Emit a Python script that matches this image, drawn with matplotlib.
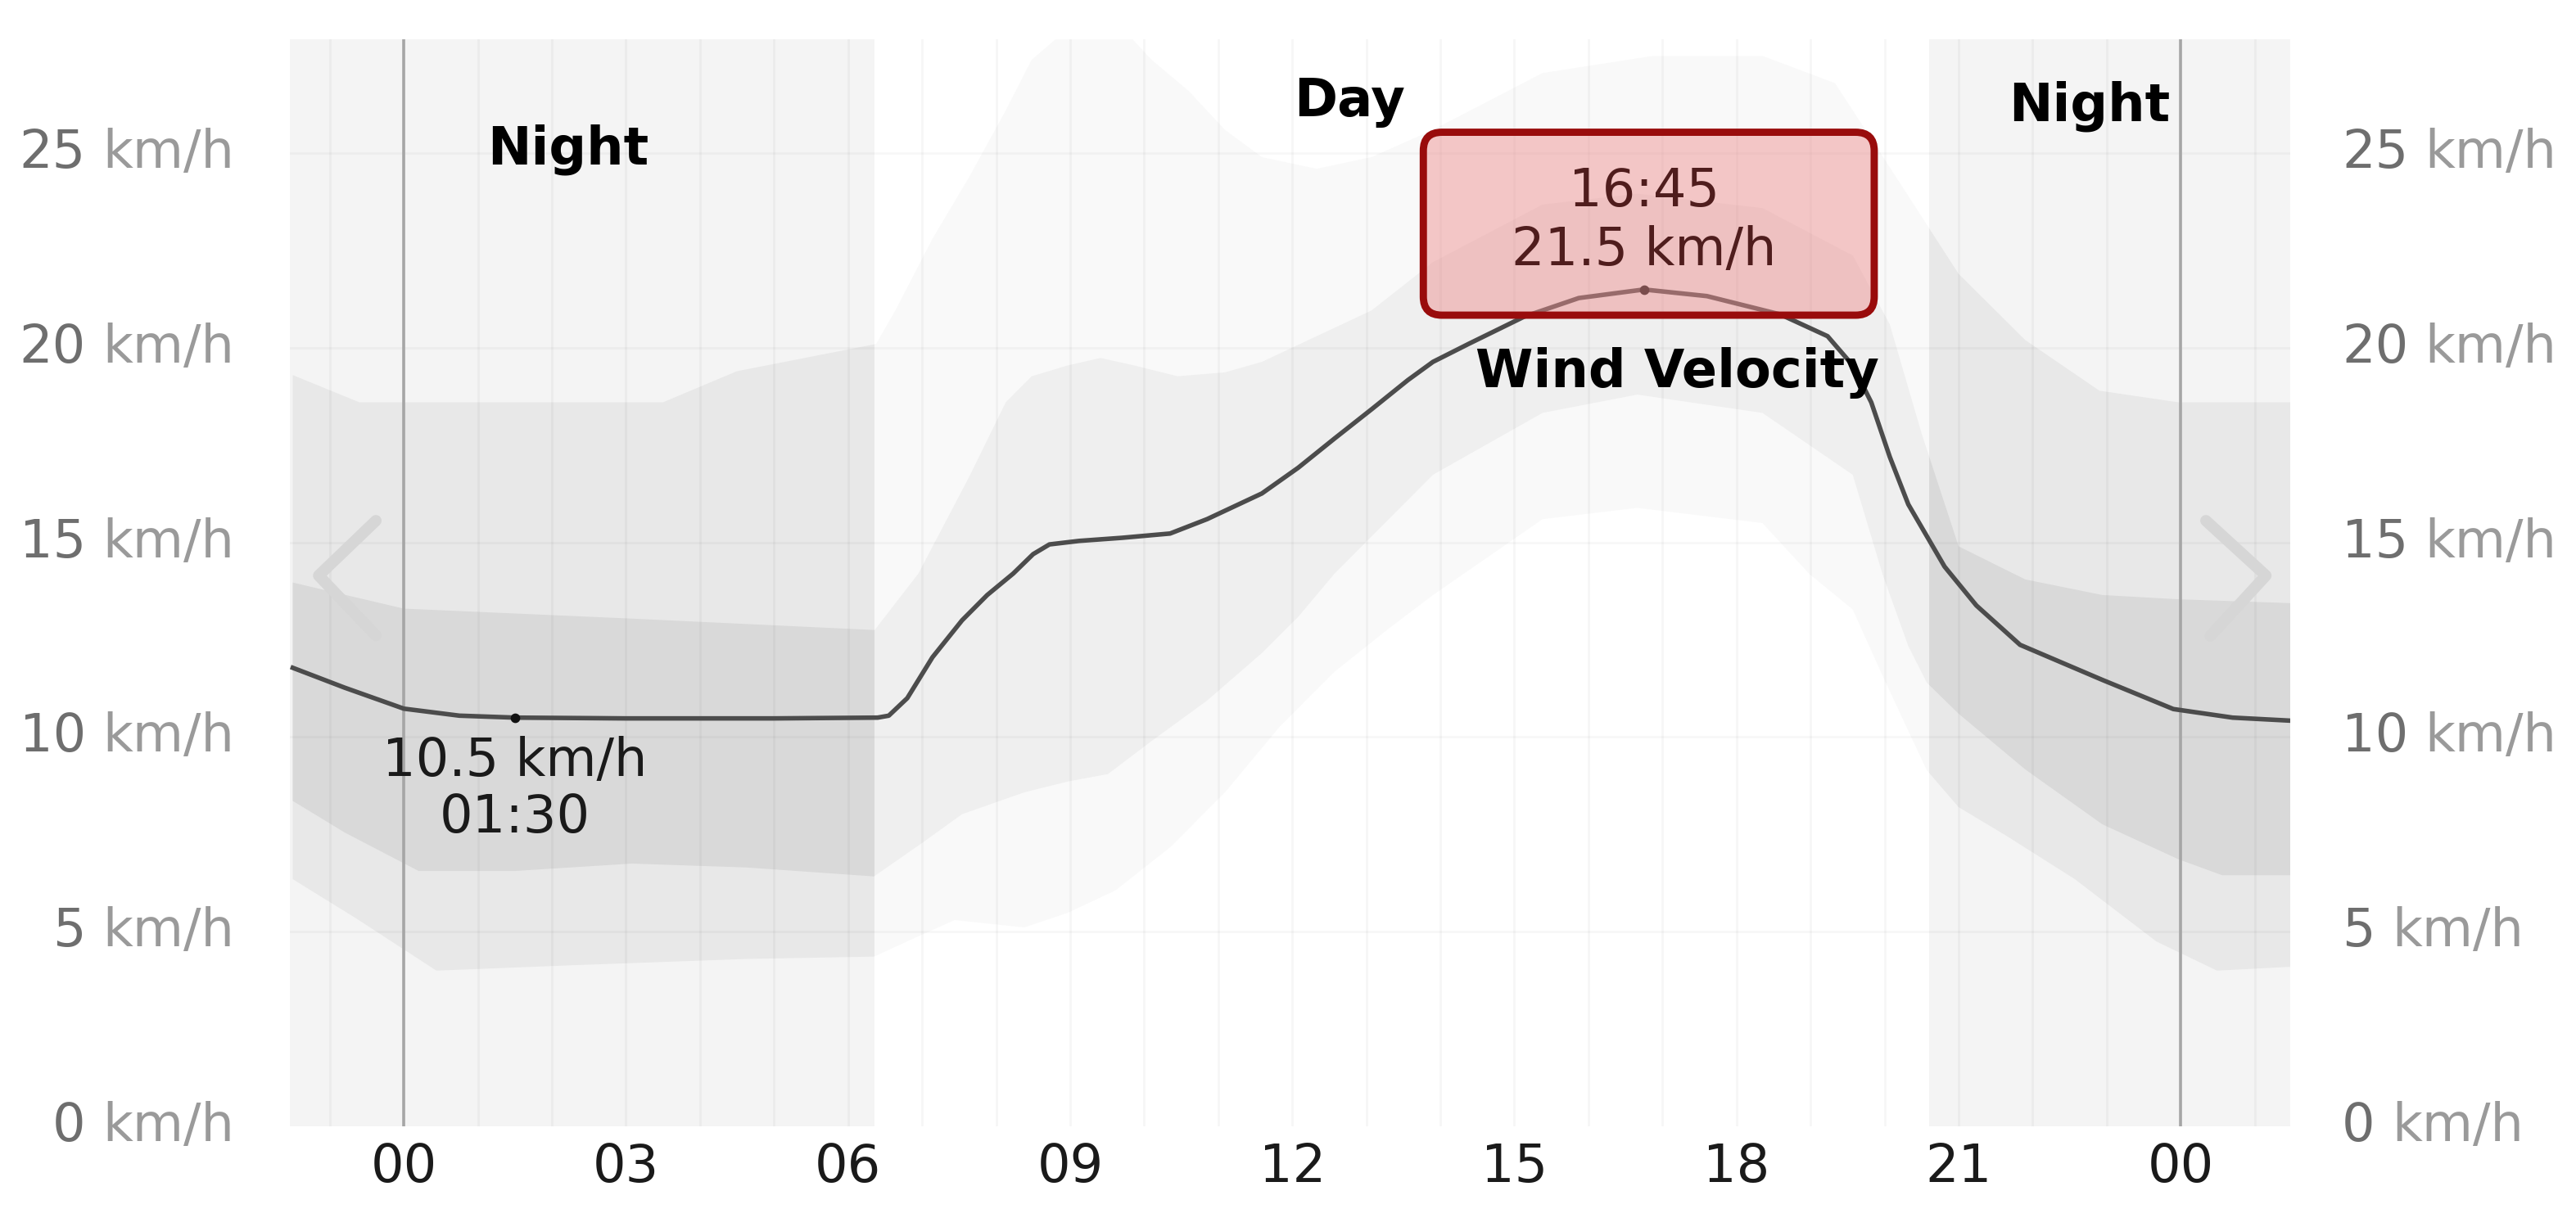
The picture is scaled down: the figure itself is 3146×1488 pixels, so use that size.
import numpy as np
import matplotlib.pyplot as plt
from matplotlib.patches import FancyBboxPatch, Rectangle

plt.rcParams['font.family'] = ['DejaVu Sans']

# --- data (hours after midnight, km/h) ---
hours = [-1.5, -0.8, 0.0, 0.75, 1.5, 3.0, 5.0, 6.4, 6.55, 6.8, 7.14, 7.54, 7.88, 8.23,
         8.5, 8.72, 9.12, 9.7, 10.35, 10.85, 11.59, 12.08, 12.57, 13.07, 13.56, 13.9,
         14.39, 15.13, 15.87, 16.75, 17.6, 18.59, 19.23, 19.57, 19.82, 20.07, 20.32,
         20.81, 21.24, 21.83, 22.94, 23.9, 24.7, 25.5]
speed = [11.78, 11.27, 10.73, 10.55, 10.5, 10.48, 10.48, 10.5, 10.55, 11.0, 12.05, 13.0,
         13.65, 14.2, 14.7, 14.95, 15.04, 15.12, 15.23, 15.6, 16.26, 16.92, 17.67, 18.42,
         19.17, 19.64, 20.11, 20.8, 21.28, 21.5, 21.33, 20.86, 20.3, 19.55, 18.6, 17.2,
         15.98, 14.38, 13.38, 12.37, 11.47, 10.72, 10.5, 10.42]

outer_top_h = [-1.5, -0.6, 3.5, 4.5, 6.38, 6.65, 7.14, 7.64, 8.13, 8.48, 8.97, 9.71, 10.1,
               10.6, 11.09, 11.59, 12.33, 13.07, 13.9, 15.38, 16.87, 18.35, 19.33, 19.98,
               21.0, 21.9, 22.9, 23.97, 25.5]
outer_top = [19.3, 18.6, 18.6, 19.4, 20.1, 21.0, 22.8, 24.4, 26.1, 27.4, 28.2, 28.2, 27.4,
             26.6, 25.6, 24.9, 24.6, 24.9, 25.6, 27.06, 27.5, 27.5, 26.8, 24.9, 21.9, 20.2,
             18.9, 18.6, 18.6]
outer_bot_h = [-1.5, -0.65, 0.44, 2.3, 4.63, 6.35, 6.9, 7.44, 8.38, 8.97, 9.61, 10.35,
               11.09, 11.83, 12.57, 13.31, 13.9, 15.38, 16.66, 18.35, 18.98, 19.57, 19.97,
               20.57, 21.0, 21.64, 22.57, 23.67, 24.49, 25.5]
outer_bot = [6.35, 5.35, 4.0, 4.14, 4.3, 4.36, 4.84, 5.3, 5.11, 5.49, 6.06, 7.17, 8.58,
             10.27, 11.68, 12.8, 13.65, 15.6, 15.89, 15.5, 14.2, 13.28, 11.59, 9.15, 8.2,
             7.47, 6.35, 4.75, 4.0, 4.1]
inner_top_h = [-1.5, 0.0, 3.0, 6.36, 6.95, 7.64, 8.13, 8.48, 8.97, 9.41, 9.86, 10.45,
               11.09, 11.59, 12.33, 13.07, 13.9, 15.38, 16.66, 18.35, 19.57, 20.07, 20.5,
               21.0, 21.9, 22.94, 23.97, 25.5]
inner_top = [13.97, 13.3, 13.05, 12.75, 14.2, 16.7, 18.6, 19.27, 19.55, 19.74, 19.55, 19.27,
             19.37, 19.64, 20.3, 20.96, 22.2, 23.68, 23.96, 23.59, 22.37, 20.6, 17.8, 14.9,
             14.05, 13.65, 13.54, 13.44]
inner_bot_h = [-1.5, -0.8, 0.2, 1.5, 3.08, 4.63, 6.35, 7.0, 7.54, 8.38, 8.97, 9.51, 10.1,
               10.85, 11.59, 12.08, 12.57, 13.9, 15.38, 16.66, 18.35, 19.57, 19.97, 20.32,
               20.57, 21.0, 21.9, 22.94, 23.97, 24.56, 25.5]
inner_bot = [8.36, 7.55, 6.56, 6.56, 6.75, 6.65, 6.42, 7.28, 8.02, 8.58, 8.86, 9.05, 9.9,
             10.94, 12.16, 13.09, 14.2, 16.74, 18.33, 18.8, 18.33, 16.74, 14.2, 12.34, 11.4,
             10.6, 9.17, 7.76, 6.86, 6.45, 6.45]

low_hour, low_value, low_label = 1.5, 10.5, '01:30'
peak_hour, peak_value, peak_label = 16.75, 21.5, '16:45'
sunrise, sunset = 6.36, 20.6

xticks = [0, 3, 6, 9, 12, 15, 18, 21, 24]
xtick_labels = ['00', '03', '06', '09', '12', '15', '18', '21', '00']
yticks = [0, 5, 10, 15, 20, 25]

XMIN, XMAX = -1.54, 25.48
YMIN, YMAX = 0, 27.93

fig = plt.figure(figsize=(15.73, 7.44), dpi=200)
ax = fig.add_axes([0.1125, 0.0753, 0.7766, 0.8925])
ax.set_xlim(XMIN, XMAX)
ax.set_ylim(YMIN, YMAX)
for s in ax.spines.values():
    s.set_visible(False)

# nuit / jour
night_col = '#f4f4f4'
ax.axvspan(XMIN, sunrise, color=night_col, lw=0, zorder=0)
ax.axvspan(sunset, XMAX, color=night_col, lw=0, zorder=0)

segments = [(XMIN, sunrise, 'night'), (sunrise, sunset, 'day'), (sunset, XMAX, 'night')]


def draw_band(xt, yt, xb, yb, day_col, nite_col, z):
    px = list(xt) + list(xb[::-1])
    py = list(yt) + list(yb[::-1])
    for x0, x1, kind in segments:
        col = day_col if kind == 'day' else nite_col
        poly = ax.fill(px, py, color=col, lw=0, zorder=z)[0]
        poly.set_clip_path(Rectangle((x0, YMIN), x1 - x0, YMAX - YMIN, transform=ax.transData))


draw_band(outer_top_h, outer_top, outer_bot_h, outer_bot, '#f9f9f9', '#e8e8e8', 1)
draw_band(inner_top_h, inner_top, inner_bot_h, inner_bot, '#efefef', '#d9d9d9', 1.5)

# grille
for h in range(-1, 26):
    ax.axvline(h, color='k', alpha=0.035, lw=1.0, zorder=2)
for v in yticks[1:]:
    ax.axhline(v, color='k', alpha=0.03, lw=1.0, zorder=2)
for h in (0, 24):
    ax.axvline(h, color='#a6a6a6', lw=1.3, zorder=2.5)

# fleches de navigation
ax.plot([-0.377, -1.15, -0.377], [15.56, 14.15, 12.61], color='#d6d6d6', lw=5,
        solid_capstyle='round', solid_joinstyle='round', zorder=2.6)
ax.plot([24.34, 25.15, 24.4], [15.56, 14.15, 12.6], color='#d6d6d6', lw=5,
        solid_capstyle='round', solid_joinstyle='round', zorder=2.6)

# courbe
ax.plot(hours, speed, color='#4c4c4c', lw=2.0, solid_joinstyle='round', zorder=3)
ax.plot([low_hour, peak_hour], [low_value, peak_value], 'o', color='#111111', ms=3.2, zorder=4)

ax.annotate(f'{low_value} km/h\n{low_label}', xy=(low_hour, low_value), xytext=(0, -8),
            textcoords='offset points', ha='center', va='top', fontsize=23,
            color='#1a1a1a', linespacing=1.15, zorder=6)

# boite du maximum
px_w = fig.get_figwidth() * fig.dpi * 0.7766
px_h = fig.get_figheight() * fig.dpi * 0.8925
aspect = (px_w / (XMAX - XMIN)) / (px_h / (YMAX - YMIN))
box = FancyBboxPatch((peak_hour - 2.98, peak_value - 0.66), 6.09, 4.7,
                     boxstyle='round,pad=0,rounding_size=0.25', mutation_aspect=aspect,
                     facecolor=(0.93, 0.56, 0.56, 0.48), edgecolor='#990c0c', lw=3.2,
                     zorder=5)
ax.add_patch(box)
ax.annotate(f'{peak_label}\n{peak_value} km/h', xy=(peak_hour, peak_value), xytext=(0, 6),
            textcoords='offset points', ha='center', va='bottom', fontsize=23,
            color='#4f1d1d', linespacing=1.2, zorder=6)

# textes
ax.text(2.22, 25.1, 'Night', ha='center', va='center', fontsize=23, fontweight='bold', zorder=6)
ax.text(12.77, 26.3, 'Day', ha='center', va='center', fontsize=23, fontweight='bold', zorder=6)
ax.text(22.77, 26.2, 'Night', ha='center', va='center', fontsize=23, fontweight='bold', zorder=6)
ax.text(17.2, 19.35, 'Wind Velocity', ha='center', va='center', fontsize=23,
        fontweight='bold', zorder=6)

# axes
ax.set_xticks(xticks)
ax.set_xticklabels(xtick_labels)
ax.tick_params(axis='x', length=0, pad=7, labelsize=23, labelcolor='#1a1a1a')
ax.set_yticks([])

ytr = ax.get_yaxis_transform()
for v in yticks:
    u = ax.text(-0.0278, v, 'km/h', transform=ytr, ha='right', va='center',
                fontsize=23, color='#9a9a9a')
    ax.annotate(str(v), xy=(0, 0), xycoords=u, xytext=(-7.3, 0), textcoords='offset points',
                ha='right', va='bottom', fontsize=23, color='#6e6e6e')
    n = ax.text(1.0258, v, str(v), transform=ytr, ha='left', va='center',
                fontsize=23, color='#6e6e6e')
    ax.annotate('km/h', xy=(1, 0), xycoords=n, xytext=(7.3, 0), textcoords='offset points',
                ha='left', va='bottom', fontsize=23, color='#9a9a9a')

fig.savefig('out.png', dpi=200)
